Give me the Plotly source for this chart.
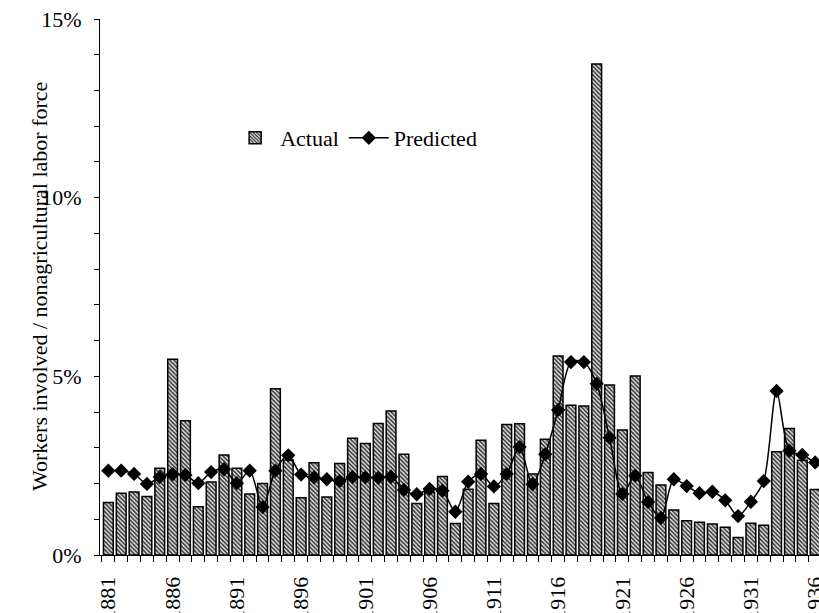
import plotly.graph_objects as go

years = list(range(1881, 1937))
actual = [
    1.47, 1.73, 1.76, 1.64, 2.43, 5.48, 3.76, 1.35, 2.04, 2.80,
    2.43, 1.71, 2.00, 4.65, 2.66, 1.60, 2.58, 1.62, 2.56, 3.27,
    3.12, 3.68, 4.03, 2.82, 1.44, 1.75, 2.20, 0.88, 1.84, 3.21,
    1.44, 3.65, 3.67, 2.27, 3.24, 5.57, 4.19, 4.17, 13.74, 4.76,
    3.50, 5.01, 2.31, 1.96, 1.26, 0.96, 0.92, 0.87, 0.78, 0.49,
    0.89, 0.83, 2.89, 3.54, 2.65, 1.83,
]
predicted = [
    2.36, 2.36, 2.27, 1.99, 2.18, 2.26, 2.24, 2.01, 2.32, 2.40,
    2.01, 2.36, 1.34, 2.36, 2.79, 2.25, 2.17, 2.12, 2.07, 2.18,
    2.17, 2.16, 2.19, 1.82, 1.70, 1.85, 1.80, 1.21, 2.05, 2.27,
    1.92, 2.27, 3.02, 1.98, 2.82, 4.06, 5.40, 5.40, 4.79, 3.28,
    1.71, 2.22, 1.48, 1.04, 2.12, 1.93, 1.73, 1.77, 1.53, 1.09,
    1.49, 2.07, 4.59, 2.92, 2.80, 2.59,
]
tick_years = list(range(1881, 1937, 5))
y_title = "Workers involved / nonagricultural labor force"

FONT = "Liberation Serif, Times New Roman, serif"
FS = 22

fig = go.Figure()
fig.add_trace(go.Bar(
    x=years, y=actual, name="Actual", width=0.76,
    marker=dict(
        color="#d0d0d0",
        line=dict(color="black", width=1.5),
        pattern=dict(shape="\\", size=3, solidity=0.5, fgcolor="#333333",
                     bgcolor="#e4e4e4", fillmode="replace"),
    ),
))
fig.add_trace(go.Scatter(
    x=years, y=predicted, name="Predicted", mode="lines+markers",
    line=dict(color="black", width=1.5, shape="spline", smoothing=0.8),
    marker=dict(symbol="diamond", size=11, color="black"),
))

fig.update_layout(
    width=819, height=613,
    margin=dict(l=100, r=0, t=19, b=58, autoexpand=False),
    plot_bgcolor="white", paper_bgcolor="white",
    font=dict(family=FONT, size=FS, color="black"),
    showlegend=True,
    legend=dict(orientation="h", x=0.181, y=0.778, xanchor="left", yanchor="middle",
                font=dict(size=FS, family=FONT), bgcolor="rgba(0,0,0,0)",
                itemwidth=40, tracegroupgap=0),
    annotations=[dict(
        text=y_title, xref="paper", yref="paper", x=0, y=0.5,
        xshift=-61, xanchor="center", yanchor="middle", textangle=-90,
        showarrow=False, font=dict(size=FS, family=FONT, color="black"),
    )],
)
fig.update_xaxes(
    range=[1880.35, 1936.3], automargin=False,
    tickmode="array", tickvals=tick_years, ticktext=[str(y) for y in tick_years],
    tickangle=-90, ticks="", ticklabelstandoff=12, ticklabeloverflow="allow",
    showline=True, linecolor="black", linewidth=1,
    showgrid=False, zeroline=False,
    minor=dict(tick0=1880.5, dtick=1, ticks="outside", ticklen=6, tickcolor="black", showgrid=False),
    tickfont=dict(size=FS, family=FONT),
)
fig.update_yaxes(
    range=[0, 15], automargin=False, tickmode="linear", tick0=0, dtick=5, ticksuffix="%",
    ticks="outside", ticklen=5, tickcolor="black", ticklabelstandoff=8,
    showline=True, linecolor="black", linewidth=1,
    showgrid=False, zeroline=False,
    minor=dict(dtick=1, ticks="outside", ticklen=5, tickcolor="black", showgrid=False),
    tickfont=dict(size=FS, family=FONT),
)

fig.write_html(
    "out.html",
    config={"displayModeBar": False},
    post_script="document.body.style.margin='0';document.body.style.overflow='hidden';",
)
